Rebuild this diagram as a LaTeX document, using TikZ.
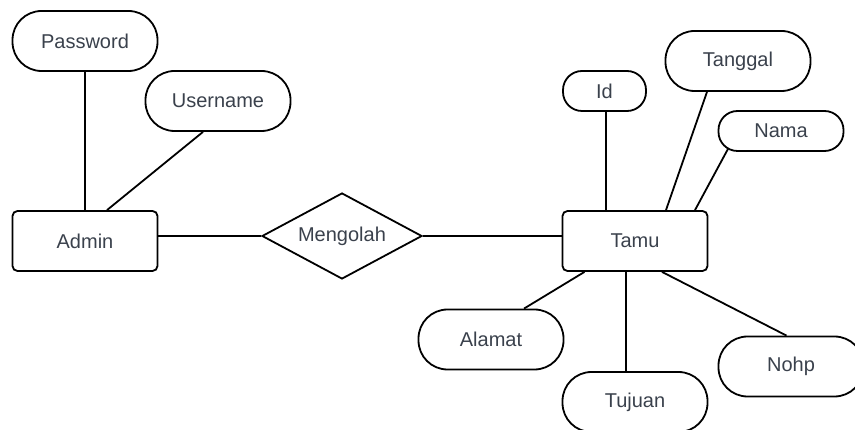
\documentclass[tikz,border=0pt]{standalone}
\usepackage{fontspec}
\setmainfont{Liberation Sans}
\usepackage{tikz}
\usetikzlibrary{shapes,calc}
\definecolor{textgrey}{RGB}{58,65,76}
\tikzstyle{entity}=[rectangle,draw,line width=1.8pt,rounded corners=5pt,minimum width=145pt,minimum height=60pt,inner sep=0pt]
\tikzstyle{attr}=[rectangle,draw,line width=1.8pt,rounded corners=29pt,minimum width=145pt,minimum height=60pt,inner sep=0pt]
\tikzstyle{smallattr}=[rectangle,draw,line width=1.8pt,rounded corners=19pt,minimum height=40pt,inner sep=0pt]
\tikzstyle{relation}=[diamond,draw,line width=1.8pt,aspect=1.86,minimum width=160pt,minimum height=86pt,inner sep=0pt]
\tikzstyle{link} = [draw,line width=1.8pt]

\begin{document}
\begin{tikzpicture}[x=1pt,y=-1pt,font=\fontsize{20}{24}\selectfont,text=textgrey]

  \useasboundingbox (0,0) rectangle (855,430);

%entities and relation
    \foreach \pos/\name/\label in {{(85,241)/admin/Admin}, {(635,241)/tamu/Tamu}}
        \node[entity] (\name) at \pos {\label};
    \node[relation] (mengolah) at (342,236) {Mengolah};

%attributes
    \foreach \pos/\name/\label in {{(85,41)/password/Password}, {(218,101)/username/Username},
        {(738,61)/tanggal/Tanggal}, {(491,339.5)/alamat/Alamat}, {(635,402)/tujuan/Tujuan}, {(791,366.5)/nohp/Nohp}}
        \node[attr] (\name) at \pos {\label};
    \node[smallattr,minimum width=83pt] (id) at (604.5,91) {Id};
    \node[smallattr,minimum width=125pt] (nama) at (781,131) {Nama};

    % Connect relation with entities
    \path[link] (mengolah.west) -- (mengolah.west -| admin.east);
    \path[link] (mengolah.east) -- (mengolah.east -| tamu.west);

    % attributes above the entities
    \foreach \source/\ds/\dest/\dd in {password/0/admin/0, username/-15/admin/22, id/1.5/tamu/-29, tanggal/-31/tamu/31}
        \path[link] ($(\source.south)+(\ds,0)$) -- ($(\dest.north)+(\dd,0)$);
    \path[link] ($(nama.south)+(-53,-3)$) -- ($(tamu.north)+(60,0)$);

    % attributes below Tamu
    \foreach \dest/\ds/\dd in {alamat/-50.5/33, tujuan/-9/-9, nohp/27/-4.5}
        \path[link] ($(tamu.south)+(\ds,0)$) -- ($(\dest.north)+(\dd,0)$);

\end{tikzpicture}
\end{document}
